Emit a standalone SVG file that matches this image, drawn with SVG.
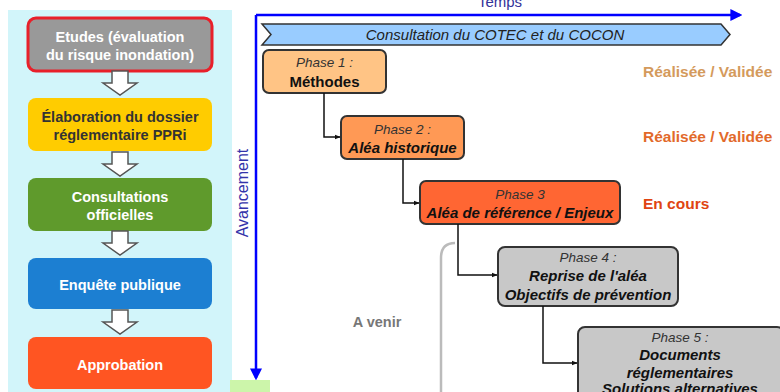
<svg xmlns="http://www.w3.org/2000/svg" width="780" height="392" viewBox="0 0 780 392">
<defs>
<style>
text{font-family:"Liberation Sans",Arial,sans-serif;text-anchor:middle}
.lb{font-size:14.5px;font-weight:bold;fill:#fff}
.lbd{font-size:14.5px;font-weight:bold;fill:#333}
.box{stroke:none}
.ph{stroke:#333;stroke-width:2}
.pt{font-size:13.5px;font-style:italic;fill:#333}
.pb{font-size:15px;font-weight:bold;font-style:italic;fill:#111}
.con{fill:none;stroke:#111;stroke-width:1.5}
.axis{stroke:#0000ff;stroke-width:2.5;fill:none}
.st{font-size:15.5px;font-weight:bold;text-anchor:start}
.harrow{fill:#fff;stroke:#555;stroke-width:1.5}
</style>
<marker id="ah" viewBox="0 0 10 10" refX="9" refY="5" markerWidth="6" markerHeight="6" orient="auto" markerUnits="userSpaceOnUse">
<path d="M0,1 L10,5 L0,9 Z" fill="#111"/>
</marker>
<marker id="bh" viewBox="0 0 10 10" refX="8" refY="5" markerWidth="12" markerHeight="12" orient="auto" markerUnits="userSpaceOnUse">
<path d="M0,0 L10,5 L0,10 Z" fill="#0000ff"/>
</marker>
<path id="hollow" d="M-8,0 H8 V12 H17 L0,24 L-17,12 H-8 Z"/>
</defs>

<rect x="0" y="0" width="780" height="392" fill="#fff"/>
<rect x="8" y="10" width="224" height="382" fill="#d2f5fa"/>
<rect x="230" y="380" width="40" height="12" fill="#ccf5aa"/>

<g id="etudes">
<rect x="28" y="18" width="184" height="53" rx="8" fill="#999" stroke="#e8202a" stroke-width="3"/>
<text class="lb" x="120" y="42" fill="#eee">Etudes (évaluation</text>
<text class="lb" x="120" y="60">du risque inondation)</text>
</g>
<g id="elaboration">
<rect class="box" x="28" y="98" width="184" height="53" rx="8" fill="#ffcc00"/>
<text class="lbd" x="120" y="122">Élaboration du dossier</text>
<text class="lbd" x="120" y="140">réglementaire PPRi</text>
</g>
<g id="consultations">
<rect class="box" x="28" y="178" width="184" height="53" rx="8" fill="#5f9a2c"/>
<text class="lb" x="120" y="202">Consultations</text>
<text class="lb" x="120" y="220">officielles</text>
</g>
<g id="enquete">
<rect class="box" x="28" y="258" width="184" height="51" rx="8" fill="#1c7fd2"/>
<text class="lb" x="120" y="290">Enquête publique</text>
</g>
<g id="approbation">
<rect class="box" x="28" y="337" width="184" height="52" rx="8" fill="#ff5522"/>
<text class="lb" x="120" y="370">Approbation</text>
</g>

<g id="flow-arrows">
<use href="#hollow" class="harrow" x="120" y="71"/>
<use href="#hollow" class="harrow" x="120" y="152"/>
<use href="#hollow" class="harrow" x="120" y="231"/>
<use href="#hollow" class="harrow" x="120" y="310"/>
</g>

<g id="axes">
<path class="axis" d="M256,15 H740" marker-end="url(#bh)"/>
<path class="axis" d="M256,15 V378" marker-end="url(#bh)"/>
<text x="500" y="7" font-size="15" fill="#333399">Temps</text>
<text x="0" y="0" font-size="16" fill="#3333aa" transform="translate(248,193) rotate(-90)">Avancement</text>
</g>

<g id="consultation-banner">
<path d="M262,24 H721 L730,34.5 L721,45 H262 L271,34.5 Z" fill="#99ccff" stroke="#333" stroke-width="1.5"/>
<text x="495" y="40" font-size="15" font-style="italic" fill="#222">Consultation du COTEC et du COCON</text>
</g>

<g id="phase1">
<rect class="ph" x="263" y="50" width="123" height="43" rx="6" fill="#ffc485"/>
<text class="pt" x="324.5" y="67">Phase 1 :</text>
<text class="pb" x="324.5" y="87" style="font-style:normal">Méthodes</text>
</g>
<g id="phase2">
<rect class="ph" x="341" y="116" width="123" height="43" rx="6" fill="#ff9955"/>
<text class="pt" x="402.5" y="134">Phase 2 :</text>
<text class="pb" x="402.5" y="153">Aléa historique</text>
</g>
<g id="phase3">
<rect class="ph" x="420" y="181" width="200" height="43" rx="6" fill="#ff6633"/>
<text class="pt" x="520" y="199">Phase 3</text>
<text class="pb" x="520" y="218">Aléa de référence / Enjeux</text>
</g>
<g id="phase4">
<rect class="ph" x="498" y="247" width="180" height="59" rx="7" fill="#c8c8c8"/>
<text class="pt" x="588" y="262" fill="#555">Phase 4 :</text>
<text class="pb" x="588" y="281">Reprise de l'aléa</text>
<text class="pb" x="588" y="300">Objectifs de prévention</text>
</g>
<g id="phase5">
<rect class="ph" x="578" y="327" width="206" height="80" rx="7" fill="#c8c8c8"/>
<text class="pt" x="680" y="342" fill="#555">Phase 5 :</text>
<text class="pb" x="680" y="360">Documents</text>
<text class="pb" x="680" y="378">réglementaires</text>
<text class="pb" x="680" y="394">Solutions alternatives</text>
</g>

<g id="connectors">
<path class="con" d="M324,93 V137 H340" marker-end="url(#ah)"/>
<path class="con" d="M403,159 V203 H419" marker-end="url(#ah)"/>
<path class="con" d="M458,224 V275 H497" marker-end="url(#ah)"/>
<path class="con" d="M543,306 V363 H577" marker-end="url(#ah)"/>
</g>

<g id="status">
<text class="st" x="643" y="77" fill="#d49a5c">Réalisée / Validée</text>
<text class="st" x="643" y="142" fill="#e2692a">Réalisée / Validée</text>
<text class="st" x="643" y="209" fill="#e04412">En cours</text>
<path d="M455,243 Q441,243 441,258 V392" fill="none" stroke="#bbb" stroke-width="2.5"/>
<text x="377" y="327" font-size="14.5" font-weight="bold" fill="#777">A venir</text>
</g>
</svg>
